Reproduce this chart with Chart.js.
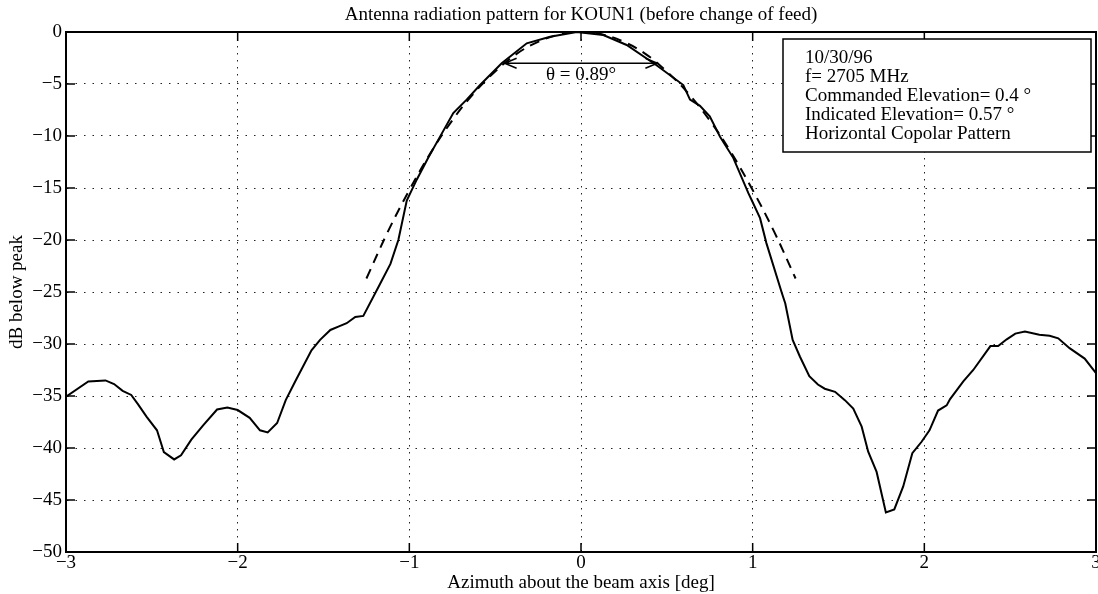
<!DOCTYPE html>
<html>
<head>
<meta charset="utf-8">
<script src="https://cdn.jsdelivr.net/npm/chart.js@4.4.1/dist/chart.umd.min.js"></script>
<style>
  html, body { margin: 0; padding: 0; background: #fff; }
  #wrap { width: 1098px; height: 594px; position: relative; }
</style>
</head>
<body>
<div id="wrap"><canvas id="c" width="1098" height="594"></canvas></div>
<script>
// ---- Data ----
const measuredAz = [-3.00,-2.87,-2.77,-2.72,-2.67,-2.62,-2.58,-2.53,-2.47,-2.43,-2.37,-2.33,-2.27,-2.20,-2.12,-2.06,-2.00,-1.93,-1.87,-1.825,-1.77,-1.72,-1.665,-1.57,-1.52,-1.46,-1.41,-1.365,-1.315,-1.268,-1.17,-1.11,-1.064,-1.015,-0.957,-0.89,-0.821,-0.744,-0.666,-0.588,-0.462,-0.316,-0.18,-0.025,0.13,0.266,0.44,0.596,0.635,0.693,0.75,0.81,0.887,0.975,0.994,1.043,1.08,1.17,1.19,1.233,1.275,1.33,1.38,1.42,1.48,1.537,1.586,1.635,1.673,1.722,1.776,1.825,1.877,1.93,1.984,2.03,2.08,2.13,2.15,2.227,2.285,2.385,2.43,2.48,2.53,2.586,2.67,2.73,2.78,2.846,2.934,3.00];
const measuredDb = [-35.06,-33.6,-33.5,-33.85,-34.5,-34.9,-35.8,-37.0,-38.3,-40.4,-41.1,-40.7,-39.2,-37.8,-36.3,-36.1,-36.35,-37.1,-38.3,-38.5,-37.6,-35.4,-33.6,-30.6,-29.6,-28.65,-28.3,-28.0,-27.4,-27.3,-24.2,-22.3,-20.0,-16.2,-14.2,-12.1,-10.06,-7.8,-6.5,-5.1,-3.0,-1.09,-0.45,0.0,-0.29,-1.25,-3.2,-5.1,-6.5,-7.1,-8.1,-10.07,-12.1,-15.5,-16.15,-17.9,-20.3,-25.1,-26.1,-29.6,-31.2,-33.1,-33.9,-34.3,-34.6,-35.4,-36.2,-37.95,-40.35,-42.3,-46.2,-45.9,-43.7,-40.5,-39.4,-38.3,-36.4,-35.9,-35.3,-33.6,-32.5,-30.2,-30.2,-29.55,-29.0,-28.8,-29.1,-29.2,-29.45,-30.4,-31.4,-32.8];

const fitAz = [-1.25,-1.125,-1.0,-0.875,-0.75,-0.625,-0.5,-0.375,-0.25,-0.125,0,0.125,0.25,0.375,0.5,0.625,0.75,0.875,1.0,1.125,1.25];
const fitDb = [-23.7,-19.2,-15.2,-11.6,-8.5,-5.9,-3.8,-2.1,-0.95,-0.24,0,-0.24,-0.95,-2.1,-3.8,-5.9,-8.5,-11.6,-15.2,-19.2,-23.7];

const beamwidthAz = [-0.445, 0.445];   // -3 dB points
const beamwidthDb = -3;
const beamwidthLabel = 'θ = 0.89°';
const beamwidthLabelDb = -4.1;

const xTicks = [-3,-2,-1,0,1,2,3];
const yTicks = [0,-5,-10,-15,-20,-25,-30,-35,-40,-45,-50];

const titleText = 'Antenna radiation pattern for KOUN1 (before change of feed)';
const xTitle = 'Azimuth about the beam axis [deg]';
const yTitle = 'dB below peak';
const infoLines = ['10/30/96','f= 2705 MHz','Commanded Elevation= 0.4 °','Indicated Elevation= 0.57 °','Horizontal Copolar Pattern'];

// ---- Chart ----
const SERIF = '"Liberation Serif", "DejaVu Serif", serif';
const FS = 19;
const fmt = v => (v < 0 ? '\u2212' + Math.abs(v) : String(v));

const framePlugin = {
  id: 'frame',
  afterDraw(chart) {
    const {ctx, chartArea: a, scales} = chart;
    const xs = scales.x, ys = scales.y;
    ctx.save();
    // box
    ctx.strokeStyle = '#000';
    ctx.lineWidth = 2;
    ctx.setLineDash([]);
    ctx.strokeRect(a.left, a.top, a.right - a.left, a.bottom - a.top);
    // inward ticks
    const tl = 9;
    ctx.lineWidth = 1.5;
    ctx.beginPath();
    xTicks.forEach(v => {
      const px = xs.getPixelForValue(v);
      ctx.moveTo(px, a.bottom); ctx.lineTo(px, a.bottom - tl);
      ctx.moveTo(px, a.top); ctx.lineTo(px, a.top + tl);
    });
    yTicks.forEach(v => {
      const py = ys.getPixelForValue(v);
      ctx.moveTo(a.left, py); ctx.lineTo(a.left + tl, py);
      ctx.moveTo(a.right, py); ctx.lineTo(a.right - tl, py);
    });
    ctx.stroke();

    // beamwidth arrow
    const x1 = xs.getPixelForValue(beamwidthAz[0]);
    const x2 = xs.getPixelForValue(beamwidthAz[1]);
    const yA = ys.getPixelForValue(beamwidthDb);
    ctx.lineWidth = 1.5;
    ctx.beginPath();
    ctx.moveTo(x1, yA); ctx.lineTo(x2, yA);
    ctx.moveTo(x1 + 12, yA - 5); ctx.lineTo(x1, yA); ctx.lineTo(x1 + 12, yA + 5);
    ctx.moveTo(x2 - 12, yA - 5); ctx.lineTo(x2, yA); ctx.lineTo(x2 - 12, yA + 5);
    ctx.stroke();
    ctx.fillStyle = '#000';
    ctx.font = FS + 'px ' + SERIF;
    ctx.textAlign = 'center';
    ctx.textBaseline = 'middle';
    ctx.fillText(beamwidthLabel, xs.getPixelForValue(0), ys.getPixelForValue(beamwidthLabelDb));

    // info box
    const bx = 783, by = 39, bw = 308, bh = 113;
    ctx.fillStyle = '#fff';
    ctx.fillRect(bx, by, bw, bh);
    ctx.strokeStyle = '#000';
    ctx.lineWidth = 1.5;
    ctx.strokeRect(bx, by, bw, bh);
    ctx.fillStyle = '#000';
    ctx.font = FS + 'px ' + SERIF;
    ctx.textAlign = 'left';
    ctx.textBaseline = 'middle';
    infoLines.forEach((t, i) => ctx.fillText(t, 805, 58.5 + i * 19));
    ctx.restore();
  }
};

new Chart(document.getElementById('c'), {
  type: 'line',
  data: {
    datasets: [
      {
        label: 'Measured',
        data: measuredAz.map((x, i) => ({x, y: measuredDb[i]})),
        borderColor: '#000',
        borderWidth: 2,
        pointRadius: 0,
        tension: 0,
        fill: false
      },
      {
        label: 'Fit',
        data: fitAz.map((x, i) => ({x, y: fitDb[i]})),
        borderColor: '#000',
        borderWidth: 2,
        borderDash: [10, 7],
        pointRadius: 0,
        tension: 0.4,
        fill: false
      }
    ]
  },
  options: {
    responsive: false,
    animation: false,
    devicePixelRatio: 1,
    layout: { padding: { left: 0, right: 2, top: 0, bottom: 0 } },
    plugins: {
      legend: { display: false },
      tooltip: { enabled: false },
      title: {
        display: true,
        text: titleText,
        fullSize: false,
        color: '#000',
        font: { family: SERIF, size: FS, weight: 'normal' },
        padding: { top: 3.6, bottom: 5.6 }
      }
    },
    scales: {
      x: {
        type: 'linear',
        min: -3, max: 3,
        afterBuildTicks: s => { s.ticks = xTicks.map(v => ({value: v})); },
        afterFit: s => { s.height = 42; s.paddingLeft = 0; s.paddingRight = 0; },
        ticks: {
          color: '#000', padding: 0, maxRotation: 0, autoSkip: false,
          font: { family: SERIF, size: FS },
          callback: v => fmt(v)
        },
        grid: { color: '#222', lineWidth: 1, drawTicks: false, tickLength: 0 },
        border: { display: true, color: '#000', width: 2, dash: [1.5, 5.5] },
        title: {
          display: true, text: xTitle, color: '#000',
          font: { family: SERIF, size: FS },
          padding: { top: 0, bottom: 0 }
        }
      },
      y: {
        type: 'linear',
        min: -50, max: 0,
        afterBuildTicks: s => { s.ticks = yTicks.map(v => ({value: v})); },
        afterFit: s => { s.width = 66; s.paddingTop = 0; s.paddingBottom = 0; },
        ticks: {
          color: '#000', padding: 4, autoSkip: false,
          font: { family: SERIF, size: FS },
          callback: v => fmt(v)
        },
        grid: { color: '#222', lineWidth: 1, drawTicks: false, tickLength: 0 },
        border: { display: true, color: '#000', width: 2, dash: [1.5, 7] },
        title: {
          display: true, text: yTitle, color: '#000',
          font: { family: SERIF, size: FS },
          padding: { top: 5.6, bottom: 0 }
        }
      }
    }
  },
  plugins: [framePlugin]
});
</script>
</body>
</html>
